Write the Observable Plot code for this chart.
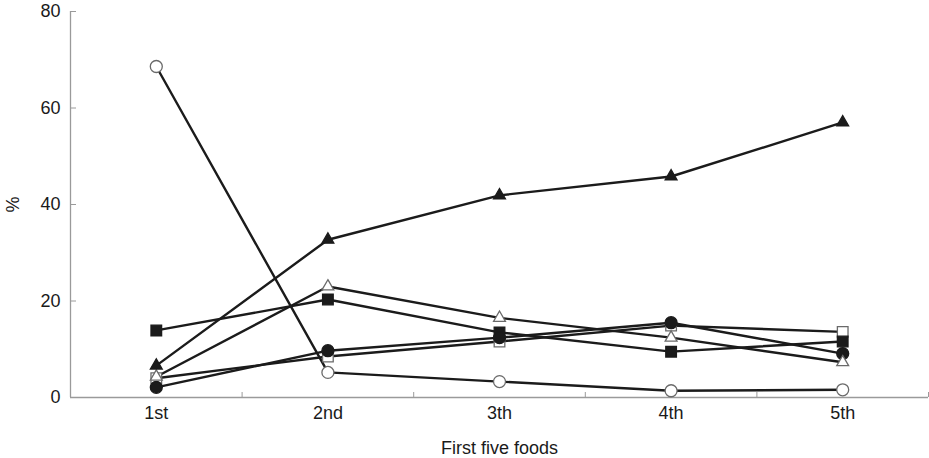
<!DOCTYPE html>
<html>
<head>
<meta charset="utf-8">
<script src="https://cdn.jsdelivr.net/npm/d3@7"></script>
<script src="https://cdn.jsdelivr.net/npm/@observablehq/plot@0.6"></script>
<style>
  html, body { margin: 0; padding: 0; background: #fff; }
  #chart { width: 929px; height: 458px; }
</style>
</head>
<body>
<div id="chart"></div>
<script>
const categories = ["1st", "2nd", "3th", "4th", "5th"];
const openCircle     = [68.6, 5.2, 3.3, 1.4, 1.6];
const filledTriangle = [6.6, 32.7, 41.9, 45.8, 57.0];
const openTriangle   = [4.3, 23.0, 16.5, 12.4, 7.3];
const filledSquare   = [13.9, 20.3, 13.5, 9.5, 11.6];
const openSquare     = [4.0, 8.5, 11.6, 14.9, 13.6];
const filledCircle   = [2.1, 9.7, 12.4, 15.5, 9.1];
const yTicks = [0, 20, 40, 60, 80];

const seriesList = [
  {name: "openTriangle", values: openTriangle, symbol: "triangle", filled: false},
  {name: "openSquare", values: openSquare, symbol: "square", filled: false},
  {name: "filledSquare", values: filledSquare, symbol: "square", filled: true},
  {name: "filledCircle", values: filledCircle, symbol: "circle", filled: true},
  {name: "filledTriangle", values: filledTriangle, symbol: "triangle", filled: true},
  {name: "openCircle", values: openCircle, symbol: "circle", filled: false}
];

const data = seriesList.flatMap(s => s.values.map((v, i) => ({
  series: s.name, shape: s.symbol, cat: categories[i], xi: i + 0.5, value: v, filled: s.filled
})));

const ink = "#1b1b1b";
const axisGray = "#9a9a9a";
const font = "'Liberation Sans', Arial, Helvetica, sans-serif";

const chart = Plot.plot({
  width: 929,
  height: 458,
  marginTop: 11,
  marginBottom: 61,
  marginLeft: 70,
  marginRight: 1,
  style: {fontFamily: font, fontSize: "18px", color: "#1a1a1a", background: "#fff"},
  x: {type: "linear", domain: [0, categories.length]},
  y: {domain: [0, 80]},
  r: {type: "identity"},
  symbol: {domain: seriesList.map(s => s.name), range: seriesList.map(s => s.symbol)},
  marks: [
    Plot.ruleY([0], {stroke: axisGray, strokeWidth: 1.3}),
    Plot.ruleX([0], {stroke: axisGray, strokeWidth: 1.3}),
    Plot.axisY({ticks: yTicks, tickSize: -6, tickPadding: 16, stroke: axisGray, fontSize: 18,
      label: "%", labelAnchor: "center", labelOffset: 64, labelArrow: "none"}),
    Plot.axisX({ticks: d3.range(categories.length + 1), tickSize: -5, tickFormat: () => "",
      stroke: axisGray, label: null}),
    Plot.axisX({ticks: categories.map((c, i) => i + 0.5), tickSize: 0, tickPadding: 9,
      tickFormat: d => categories[Math.round(d - 0.5)], fontSize: 18,
      label: "First five foods", labelAnchor: "center", labelOffset: 56, labelArrow: "none"}),
    Plot.line(data, {x: "xi", y: "value", z: "series", stroke: ink, strokeWidth: 2.4}),
    Plot.dot(data, {x: "xi", y: "value", symbol: "series",
      r: d => d.shape === "triangle" ? 4.4 : 6,
      fill: d => d.filled ? ink : "#ffffff",
      stroke: d => d.filled ? ink : "#6a6a6a",
      strokeWidth: 1.3})
  ]
});
document.getElementById("chart").appendChild(chart);
</script>
</body>
</html>
